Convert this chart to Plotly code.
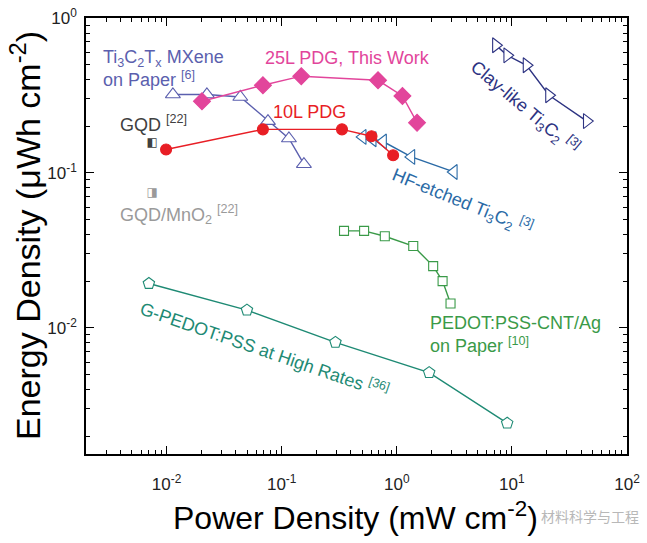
import plotly.graph_objects as go

# ---- data (mW cm^-2, uWh cm^-2) ----
pdg25_x = [0.0203, 0.0687, 0.148, 0.687, 1.12, 1.50]
pdg25_y = [0.290, 0.368, 0.421, 0.396, 0.314, 0.211]

pdg10_x = [0.0099, 0.0687, 0.334, 0.603, 0.929]
pdg10_y = [0.1416, 0.191, 0.191, 0.1725, 0.130]

mxene_x = [0.01135, 0.0224, 0.0437, 0.076, 0.1156, 0.156]
mxene_y = [0.321, 0.321, 0.309, 0.216, 0.1667, 0.1138]

hf_x = [0.506, 0.618, 0.760, 1.34, 3.13]
hf_y = [0.1707, 0.165, 0.1594, 0.1268, 0.1014]

clay_x = [7.26, 9.10, 13.4, 21.0, 44.7]
clay_y = [0.667, 0.574, 0.495, 0.317, 0.216]

cnt_x = [0.348, 0.520, 0.787, 1.39, 2.07, 2.50, 2.93]
cnt_y = [0.0422, 0.0422, 0.0390, 0.0337, 0.0250, 0.0200, 0.01435]

gped_x = [0.00702, 0.0499, 0.293, 1.91, 9.1]
gped_y = [0.0193, 0.0130, 0.00805, 0.00513, 0.00242]

gqd_x = [0.00751]
gqd_y = [0.155]
gqdmn_x = [0.00751]
gqdmn_y = [0.0743]

major_x = [0.01, 0.1, 1, 10, 100]
major_x_text = ["10<sup>-2</sup>", "10<sup>-1</sup>", "10<sup>0</sup>", "10<sup>1</sup>", "10<sup>2</sup>"]
major_y = [0.01, 0.1, 1]
major_y_text = ["10<sup>-2</sup>", "10<sup>-1</sup>", "10<sup>0</sup>"]
minor_x = [m * d for d in [0.001, 0.01, 0.1, 1, 10] for m in range(2, 10)]
minor_y = [m * d for d in [0.001, 0.01, 0.1] for m in range(2, 10)]

C_PDG25 = "#e2459b"
C_PDG10 = "#e81e25"
C_MX = "#5b5fae"
C_HF = "#2a6aa6"
C_CLAY = "#2d3382"
C_CNT = "#3a9a48"
C_GP = "#1e8a74"
C_GQD = "#404040"
C_GQDMN = "#9a9a9a"

FONT = "Arial, Liberation Sans, sans-serif"

fig = go.Figure()

def line_trace(x, y, color, symbol, size, filled):
    fig.add_trace(go.Scatter(
        x=x, y=y, mode="lines+markers",
        line=dict(color=color, width=1.4),
        marker=dict(symbol=symbol, size=size,
                    color=color if filled else "white",
                    line=dict(color=color, width=1.1)),
        showlegend=False, cliponaxis=False))

line_trace(mxene_x, mxene_y, C_MX, "triangle-up", 13, False)
line_trace(hf_x, hf_y, C_HF, "triangle-left", 13, False)
line_trace(clay_x, clay_y, C_CLAY, "triangle-right", 13, False)
line_trace(cnt_x, cnt_y, C_CNT, "square", 9, False)
line_trace(gped_x, gped_y, C_GP, "pentagon", 12, False)
line_trace(pdg25_x, pdg25_y, C_PDG25, "diamond", 13, True)
line_trace(pdg10_x, pdg10_y, C_PDG10, "circle", 11, True)

fig.add_trace(go.Scatter(x=gqd_x, y=gqd_y, mode="text", text=["◧"],
                         textfont=dict(size=12, color=C_GQD, family="DejaVu Sans"),
                         showlegend=False))
fig.add_trace(go.Scatter(x=gqdmn_x, y=gqdmn_y, mode="text", text=["◨"],
                         textfont=dict(size=12, color=C_GQDMN, family="DejaVu Sans"),
                         showlegend=False))

L, R, T, B = 86, 627, 18, 454
W, H = 647, 543

def px(x):
    return (x - L) / (R - L)

def py(y):
    return (B - y) / (B - T)

def label(text, x, y, color, xanchor="left", angle=0, size=18):
    fig.add_annotation(text=text, x=px(x), y=py(y), xref="paper", yref="paper",
                       xanchor=xanchor, yanchor="middle", showarrow=False,
                       textangle=angle, align="left", borderpad=0,
                       font=dict(family=FONT, size=size, color=color))

label("Ti<sub>3</sub>C<sub>2</sub>T<sub>x</sub> MXene<br>on Paper <sup>[6]</sup>", 102, 68, C_MX)
label("25L PDG, This Work", 264, 58, C_PDG25)
label("10L PDG", 272, 112, C_PDG10)
label("GQD <sup>[22]</sup>", 119, 123, C_GQD)
label("GQD/MnO<sub>2</sub> <sup>[22]</sup>", 119, 214, C_GQDMN)
label("PEDOT:PSS-CNT/Ag<br>on Paper <sup>[10]</sup>", 429, 334, C_CNT)
label("Clay-like Ti<sub>3</sub>C<sub>2</sub> <sup>[3]</sup>", 525, 107, C_CLAY, "center", 40)
label("HF-etched Ti<sub>3</sub>C<sub>2</sub> <sup>[3]</sup>", 462, 201, C_HF, "center", 22)
label("G-PEDOT:PSS at High Rates <sup>[36]</sup>", 264, 349, C_GP, "center", 19)

# axis titles
fig.add_annotation(text="Power Density (mW cm<sup>-2</sup>)", x=px(355), y=py(516),
                   xref="paper", yref="paper", xanchor="center", yanchor="middle",
                   showarrow=False, font=dict(family=FONT, size=32, color="black"))
fig.add_annotation(text="Energy Density (μWh cm<sup>-2</sup>)", x=px(25), y=py(236),
                   xref="paper", yref="paper", xanchor="center", yanchor="middle",
                   showarrow=False, textangle=-90,
                   font=dict(family=FONT, size=34, color="black"))

# watermark
fig.add_annotation(text="材料科学与工程", x=px(590), y=py(516), xref="paper", yref="paper",
                   xanchor="center", yanchor="middle", showarrow=False,
                   font=dict(family="Noto Sans CJK SC", size=14, color="#b8b8b8"))

axis_common = dict(
    type="log", showgrid=False, zeroline=False, automargin=False,
    showline=True, linecolor="black", linewidth=1.5, mirror="ticks",
    ticks="inside", ticklen=8, tickwidth=1.3, tickcolor="black",
    tickfont=dict(family=FONT, size=17, color="#222"),
)

fig.update_xaxes(**axis_common, range=[-2.70, 2.0],
                 tickvals=major_x, ticktext=major_x_text, ticklabelstandoff=14,
                 minor=dict(tickvals=minor_x, ticks="inside", ticklen=4, tickwidth=1.1, tickcolor="black"))
fig.update_yaxes(**axis_common, range=[-2.815, 0.0],
                 tickvals=major_y, ticktext=major_y_text, ticklabelstandoff=4,
                 minor=dict(tickvals=minor_y, ticks="inside", ticklen=4, tickwidth=1.1, tickcolor="black"))

fig.update_layout(width=W, height=H, margin=dict(l=L, r=W - R, t=T, b=H - B),
                  plot_bgcolor="white", paper_bgcolor="white")

fig.write_html("out.html", config={"displayModeBar": False},
               post_script="document.body.style.margin='0';")
